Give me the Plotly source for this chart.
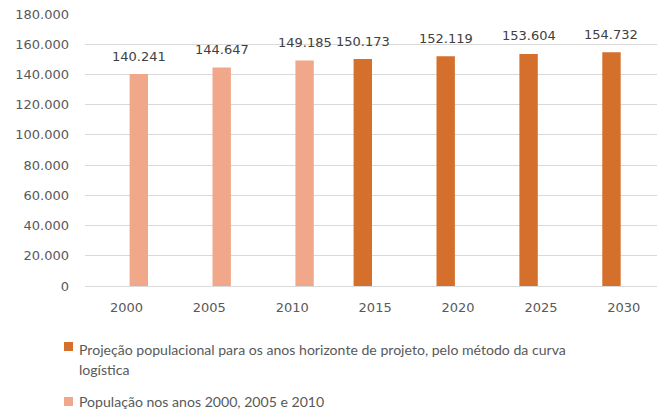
import plotly.graph_objects as go

# Population of the municipality (inhabitants)
years = ["2000", "2005", "2010", "2015", "2020", "2025", "2030"]
census_pop = [140241, 144647, 149185, None, None, None, None]
projected_pop = [None, None, None, 150173, 152119, 153604, 154732]

projected_name = "Projeção populacional para os anos horizonte de projeto, pelo método da curva logística"
census_name = "População nos anos 2000, 2005 e 2010"

y_ticks = [0, 20000, 40000, 60000, 80000, 100000, 120000, 140000, 160000, 180000]

DARK = "#D4702B"
LIGHT = "#F1A88A"
GRID = "#D9D9D9"
TICK_TXT = "#595959"
LABEL_TXT = "#404040"

W, H = 657, 409
ML, MR, MT, MB = 85, 0, 14, 123
PW, PH = W - ML - MR, H - MT - MB

BAR_W = 0.222
SHIFT = 0.149  # half distance between the two series slots

fig = go.Figure()
fig.add_trace(go.Bar(
    x=years, y=projected_pop, name=projected_name,
    marker=dict(color=DARK, line=dict(width=0)),
    width=BAR_W, offset=-SHIFT - BAR_W / 2, showlegend=False,
))
fig.add_trace(go.Bar(
    x=years, y=census_pop, name=census_name,
    marker=dict(color=LIGHT, line=dict(width=0)),
    width=BAR_W, offset=SHIFT - BAR_W / 2, showlegend=False,
))


def fmt(v):
    return f"{v:,}".replace(",", ".")


label_font = dict(family="DejaVu Sans", size=13, color=LABEL_TXT)
annotations = []
for i, v in enumerate(projected_pop):
    if v is not None:
        annotations.append(dict(x=i - SHIFT, y=v, xref="x", yref="y", text=fmt(v),
                                showarrow=False, yanchor="middle", yshift=18, font=label_font))
for i, v in enumerate(census_pop):
    if v is not None:
        annotations.append(dict(x=i + SHIFT, y=v, xref="x", yref="y", text=fmt(v),
                                showarrow=False, yanchor="middle", yshift=18, font=label_font))


def px_x(p):
    return (p - ML) / PW


def px_y(p):
    return (MT + PH - p) / PH


# legend drawn below the plot
legend_font = dict(family="Lato", size=14.1, color=TICK_TXT)
shapes = []
legend_rows = [
    (DARK, 342, [("Projeção populacional para os anos horizonte de projeto, pelo método da curva", 349),
                 ("logística", 369)]),
    (LIGHT, 397, [(census_name, 401)]),
]
for color, sq_top, lines in legend_rows:
    shapes.append(dict(type="rect", xref="paper", yref="paper",
                       x0=px_x(64), x1=px_x(73), y0=px_y(sq_top + 9), y1=px_y(sq_top),
                       fillcolor=color, line=dict(width=0)))
    for txt, cy in lines:
        annotations.append(dict(x=px_x(77), y=px_y(cy), xref="paper", yref="paper",
                                text=txt, showarrow=False, xanchor="left", yanchor="middle",
                                font=legend_font))

fig.update_layout(
    width=W, height=H,
    margin=dict(l=ML, r=MR, t=MT, b=MB, pad=0),
    paper_bgcolor="white", plot_bgcolor="white",
    separators=",.",
    barmode="overlay",
    showlegend=False,
    annotations=annotations,
    shapes=shapes,
    xaxis=dict(
        type="category", range=[-0.5, 6.4],
        showgrid=False, showline=False, zeroline=False, ticks="",
        ticklabelstandoff=12,
        tickfont=dict(family="DejaVu Sans", size=13, color=TICK_TXT),
    ),
    yaxis=dict(
        range=[0, 180000], tickvals=y_ticks, tickformat=",d",
        showgrid=True, gridcolor=GRID, gridwidth=1.3,
        zeroline=True, zerolinecolor=GRID, zerolinewidth=1.3,
        showline=False, ticks="", ticklabelstandoff=15,
        tickfont=dict(family="DejaVu Sans", size=13, color=TICK_TXT),
    ),
)

fig.write_html("out.html")
